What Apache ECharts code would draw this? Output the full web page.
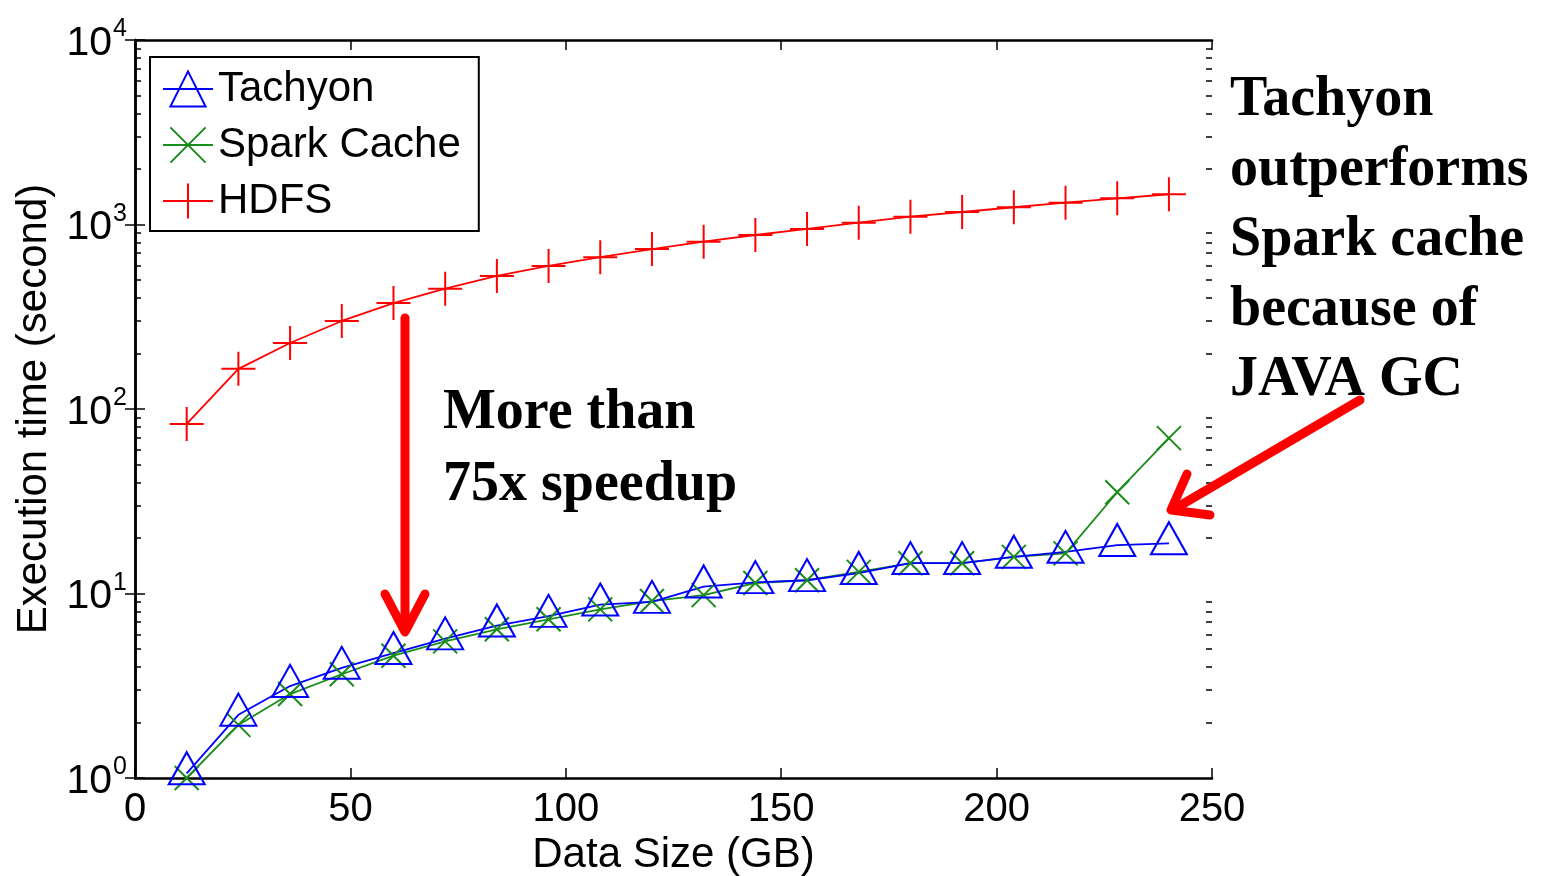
<!DOCTYPE html>
<html>
<head>
<meta charset="utf-8">
<script src="https://cdn.jsdelivr.net/npm/echarts@6.0.0/dist/echarts.min.js"></script>
<style>
  html, body { margin: 0; padding: 0; background: #fff; }
  #chart { width: 1551px; height: 876px; }
</style>
</head>
<body>
<div id="chart"></div>
<script>
// data (GB -> seconds)
const dataSizes = [12, 24, 36, 48, 60, 72, 84, 96, 108, 120, 132, 144, 156, 168, 180, 192, 204, 216, 228, 240];
const tachyon = [1.06, 2.2, 3.15, 3.95, 4.75, 5.7, 6.7, 7.55, 8.7, 9.0, 10.9, 11.5, 11.8, 12.9, 14.6, 14.6, 15.8, 16.8, 18.3, 18.7];
const sparkCache = [1.0, 1.94, 2.85, 3.65, 4.6, 5.5, 6.4, 7.25, 8.2, 9.1, 9.8, 11.4, 11.8, 13.1, 14.6, 14.6, 15.8, 16.5, 35.4, 69.5];
const hdfs = [83, 165, 228, 300, 375, 449, 526, 596, 665, 736, 807, 877, 946, 1023, 1102, 1169, 1240, 1313, 1387, 1459];

const yMajorTicks = [1, 10, 100, 1000, 10000];
const yMinorTicks = [2, 3, 4, 5, 6, 7, 8, 9, 20, 30, 40, 50, 60, 70, 80, 90,
  200, 300, 400, 500, 600, 700, 800, 900, 2000, 3000, 4000, 5000, 6000, 7000, 8000, 9000];

const pairs = (ys) => dataSizes.map((x, i) => [x, ys[i]]);

const sansFont = '"Liberation Sans", Arial, sans-serif';
const serifFont = '"Liberation Serif", "DejaVu Serif", serif';
const RED = '#ff0000';

const chart = echarts.init(document.getElementById('chart'));

function lineSeries(name, ys, color, symbol, size, offset) {
  return {
    name: name,
    type: 'line',
    data: pairs(ys),
    xAxisIndex: 0,
    yAxisIndex: 0,
    symbol: symbol,
    symbolSize: size,
    symbolOffset: offset || [0, 0],
    showSymbol: true,
    lineStyle: { color: color, width: 1.8 },
    itemStyle: { color: 'rgba(0,0,0,0)', borderColor: color, borderWidth: 2 },
    emphasis: { disabled: true },
    z: 3
  };
}

const hiddenLabel = { show: false };
const noSplit = { show: false };
const boxLine = { show: true, lineStyle: { color: '#000', width: 2.5 } };

const option = {
  animation: false,
  backgroundColor: '#fff',
  grid: { left: 135, right: 339, top: 40, bottom: 98, containLabel: false, outerBoundsMode: 'none' },
  legend: {
    left: 150,
    top: 57,
    orient: 'vertical',
    backgroundColor: '#fff',
    borderColor: '#000',
    borderWidth: 2,
    borderRadius: 0,
    padding: [11, 18, 9, 12],
    itemWidth: 50,
    itemHeight: 44,
    itemGap: 14,
    selectedMode: false,
    textStyle: { fontFamily: sansFont, fontSize: 42, color: '#000' },
    data: ['Tachyon', 'Spark Cache', 'HDFS']
  },
  xAxis: [
    {
      type: 'value', position: 'bottom', min: 0, max: 250, interval: 50,
      name: 'Data Size (GB)', nameLocation: 'middle', nameGap: 49,
      nameTextStyle: { fontFamily: sansFont, fontSize: 42, color: '#000' },
      axisLine: boxLine,
      axisTick: { show: true, inside: true, length: 10, lineStyle: { color: '#000', width: 1.5 } },
      axisLabel: { fontFamily: sansFont, fontSize: 40, color: '#000', margin: 12 },
      splitLine: noSplit
    },
    {
      type: 'value', position: 'top', min: 0, max: 250, interval: 50,
      axisLine: boxLine,
      axisTick: { show: true, inside: true, length: 10, lineStyle: { color: '#000', width: 1.5 } },
      axisLabel: hiddenLabel,
      splitLine: noSplit
    }
  ],
  yAxis: [
    {
      type: 'log', logBase: 10, position: 'left', min: 1, max: 10000,
      name: 'Execution time (second)', nameLocation: 'middle', nameGap: 78,
      nameTextStyle: { fontFamily: sansFont, fontSize: 42, color: '#000' },
      axisLine: boxLine,
      axisTick: { show: true, inside: true, length: 10, customValues: yMajorTicks, lineStyle: { color: '#000', width: 1.5 } },
      axisLabel: {
        margin: 8,
        padding: [8, 0, 0, 0],
        formatter: (v) => '{b|10}{s|' + Math.round(Math.log10(v)) + '}',
        rich: {
          b: { fontFamily: sansFont, fontSize: 41, lineHeight: 40, color: '#000', verticalAlign: 'bottom' },
          s: { fontFamily: sansFont, fontSize: 25, lineHeight: 24, color: '#000', padding: [0, 0, 22, 1], verticalAlign: 'bottom' }
        }
      },
      splitLine: noSplit
    },
    {
      type: 'log', logBase: 10, position: 'right', min: 1, max: 10000,
      axisLine: boxLine,
      axisTick: { show: true, inside: true, length: 10, customValues: yMajorTicks, lineStyle: { color: '#000', width: 1.5 } },
      axisLabel: hiddenLabel,
      splitLine: noSplit
    },
    {
      type: 'log', logBase: 10, position: 'left', min: 1, max: 10000,
      axisLine: { show: false },
      axisTick: { show: true, inside: true, length: 6, customValues: yMinorTicks, lineStyle: { color: '#000', width: 1.5 } },
      axisLabel: hiddenLabel,
      splitLine: noSplit
    },
    {
      type: 'log', logBase: 10, position: 'right', min: 1, max: 10000,
      axisLine: { show: false },
      axisTick: { show: true, inside: true, length: 6, customValues: yMinorTicks, lineStyle: { color: '#000', width: 1.5 } },
      axisLabel: hiddenLabel,
      splitLine: noSplit
    }
  ],
  series: [
    lineSeries('HDFS', hdfs, RED, 'path://M5,0L5,10M0,5L10,5', 34),
    lineSeries('Spark Cache', sparkCache, '#1a8c1a', 'path://M0,0L10,10M0,10L10,0', 24),
    // triangle centred on its centroid, like the MATLAB marker
    lineSeries('Tachyon', tachyon, '#0000ff', 'path://M5,0L10,9L0,9Z', [36, 32], [0, '-16%'])
  ],
  graphic: [
    {
      type: 'text', left: 443, top: 378, z: 10,
      style: { text: 'More than\n75x speedup', font: 'bold 56px ' + serifFont, lineHeight: 72, fill: '#000' }
    },
    {
      type: 'text', left: 1230, top: 66, z: 10,
      style: { text: 'Tachyon\noutperforms\nSpark cache\nbecause of\nJAVA GC', font: 'bold 56px ' + serifFont, lineHeight: 70, fill: '#000' }
    },
    // vertical arrow
    {
      type: 'polyline', z: 10,
      shape: { points: [[405, 318], [405, 628]] },
      style: { stroke: RED, lineWidth: 9, fill: null, lineCap: 'round' }
    },
    {
      type: 'polyline', z: 10,
      shape: { points: [[385, 594], [405, 632], [425, 594]] },
      style: { stroke: RED, lineWidth: 9, fill: null, lineCap: 'round', lineJoin: 'round' }
    },
    // diagonal arrow towards the last points
    {
      type: 'polyline', z: 10,
      shape: { points: [[1360, 400], [1176, 508]] },
      style: { stroke: RED, lineWidth: 9, fill: null, lineCap: 'round' }
    },
    {
      type: 'polyline', z: 10,
      shape: { points: [[1187, 474], [1171, 510], [1210, 515]] },
      style: { stroke: RED, lineWidth: 9, fill: null, lineCap: 'round', lineJoin: 'round' }
    }
  ]
};

chart.setOption(option);
</script>
</body>
</html>
